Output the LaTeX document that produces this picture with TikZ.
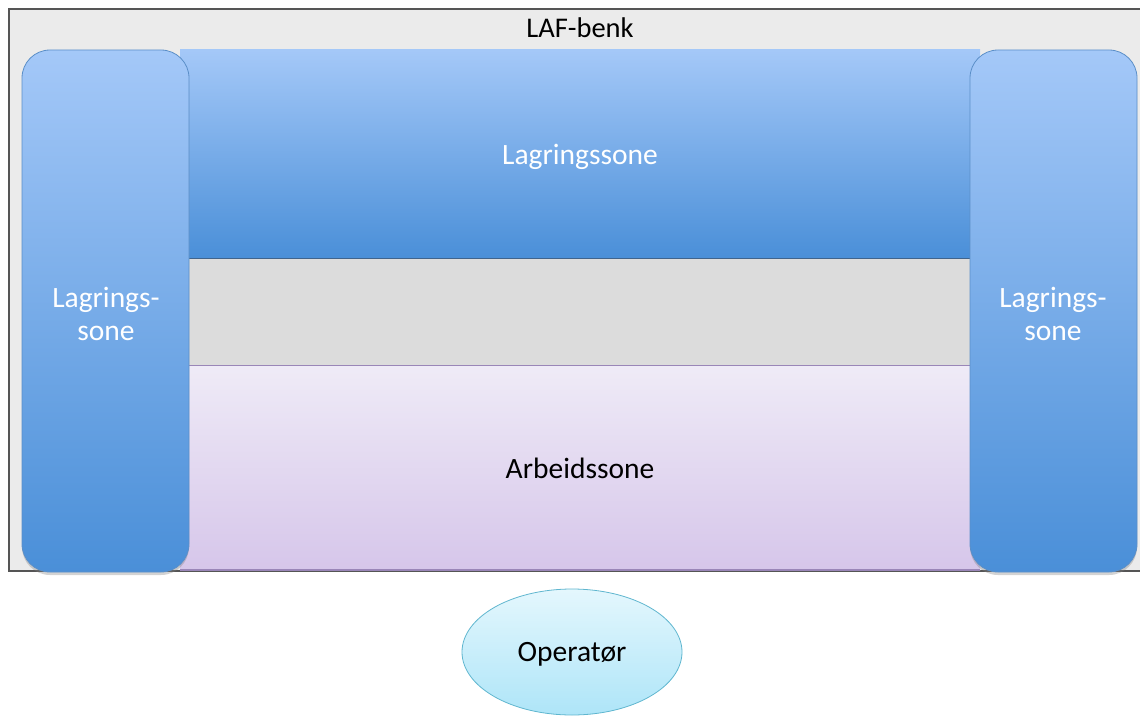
\documentclass[tikz,border=0pt]{standalone}
\usepackage{fontspec}
\setmainfont{Carlito}
\usetikzlibrary{shapes.geometric,shadows}
\definecolor{frameFill}{HTML}{EBEBEB}
\definecolor{frameLine}{HTML}{555555}
\definecolor{blueTop}{HTML}{A4C8F8}
\definecolor{blueBot}{HTML}{4A8FD8}
\definecolor{blueLine}{HTML}{5B8FC8}
\definecolor{grayBand}{HTML}{DCDCDC}
\definecolor{purpTop}{HTML}{EFEBF7}
\definecolor{purpBot}{HTML}{D6C6EA}
\definecolor{purpLine}{HTML}{9A86B8}
\definecolor{cyanTop}{HTML}{E4F7FD}
\definecolor{cyanBot}{HTML}{AEE5F8}
\definecolor{cyanLine}{HTML}{5FB6CF}
\tikzset{
  zonelabel/.style={text=white, font=\fontsize{29.5}{33}\selectfont, align=center},
  darklabel/.style={text=black, font=\fontsize{29.5}{33}\selectfont, align=center},
  sidebar/.style={draw=blueLine, line width=0.8pt, rounded corners=28pt, top color=blueTop, bottom color=blueBot,
    drop shadow={shadow xshift=0pt, shadow yshift=-3pt, opacity=0.35}},
}
\begin{document}
\begin{tikzpicture}[x=1pt,y=-1pt]
\useasboundingbox (0,0) rectangle (1140,717);
% frame
\draw[frameLine, line width=1.5pt, fill=frameFill] (9,9) rectangle (1150,571);
\node[darklabel, font=\fontsize{28.5}{32}\selectfont] (laf) at (580,28) {LAF-benk};
% bands
\shade[top color=blueTop, bottom color=blueBot] (180,50) rectangle (980,258);
\fill[grayBand] (180,258) rectangle (980,365);
\draw[blueLine!70!black, line width=0.8pt] (180,258) -- (980,258);
\shade[top color=purpTop, bottom color=purpBot] (180,365) rectangle (980,570);
\draw[purpLine, line width=0.8pt] (180,365) -- (980,365);
\draw[purpLine, line width=1.5pt] (180,570) -- (980,570);
\node[zonelabel] (top) at (580,157) {Lagringssone};
\node[darklabel] (work) at (580,468) {Arbeidssone};
% side bars
\path[sidebar] (22,50) rectangle (189,572);
\path[sidebar] (970,50) rectangle (1137,572);
\node[zonelabel] (left) at (106,314) {Lagrings-\\sone};
\node[zonelabel] (right) at (1053,314) {Lagrings-\\sone};
% operator
\node[ellipse, draw=cyanLine, line width=0.8pt, top color=cyanTop, bottom color=cyanBot,
  minimum width=220pt, minimum height=126pt, darklabel, text depth=0pt, yshift=0pt] (op) at (572,652) {Operatør};
\end{tikzpicture}
\end{document}
